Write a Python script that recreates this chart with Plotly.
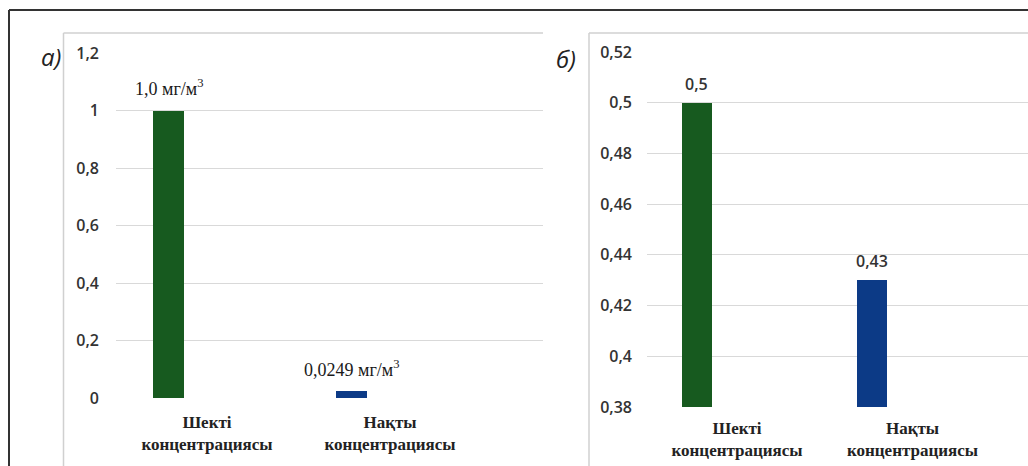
import plotly.graph_objects as go

W, H = 1028, 466

# --- data ---
categories = ["Шекті<br>концентрациясы", "Нақты<br>концентрациясы"]
values_a = [1.0, 0.0249]
labels_a = ["1,0 мг/м<sup>3</sup>", "0,0249 мг/м<sup>3</sup>"]
values_b = [0.5, 0.43]
labels_b = ["0,5", "0,43"]
ticks_a = [0, 0.2, 0.4, 0.6, 0.8, 1.0, 1.2]
ticktext_a = ["0", "0,2", "0,4", "0,6", "0,8", "1", "1,2"]
ticks_b = [0.38, 0.40, 0.42, 0.44, 0.46, 0.48, 0.50, 0.52]
ticktext_b = ["0,38", "0,4", "0,42", "0,44", "0,46", "0,48", "0,5", "0,52"]
axis_min_b = 0.38
bar_colors = ["#175a1f", "#0c3a86"]


def px(x):
    return x / W


def py(y):
    return 1 - y / H


BAR_W = 0.172
OFF_A = -0.296
OFF_B = -0.316

fig = go.Figure()
fig.add_trace(go.Bar(
    x=categories, y=values_a, marker=dict(color=bar_colors, line=dict(width=0)),
    width=BAR_W, offset=OFF_A, xaxis="x", yaxis="y", hoverinfo="skip",
))
# bars in chart б start at the axis minimum
fig.add_trace(go.Bar(
    x=categories, y=[v - axis_min_b for v in values_b], base=axis_min_b,
    marker=dict(color=bar_colors, line=dict(width=0)),
    width=BAR_W, offset=OFF_B, xaxis="x2", yaxis="y2", hoverinfo="skip",
))

tick_font = dict(family="Open Sans", size=16, color="#333333", weight=600)
cat_font = dict(family="Liberation Serif", size=17, color="#222222", weight=700)

common_x = dict(type="category", showgrid=False, zeroline=False, showline=False,
                ticks="", tickfont=cat_font, fixedrange=True, automargin=False)
common_y = dict(showgrid=True, gridcolor="#d9d9d9", gridwidth=1, zeroline=False,
                showline=False, ticks="", tickfont=tick_font, fixedrange=True,
                automargin=False)

fig.update_layout(
    width=W, height=H,
    margin=dict(l=0, r=0, t=0, b=0),
    paper_bgcolor="white", plot_bgcolor="white",
    showlegend=False,
    bargap=0,
    xaxis=dict(common_x, domain=[px(116), px(543)], range=[-0.497, 1.836],
               anchor="y", ticklabelstandoff=12),
    yaxis=dict(common_y, domain=[py(398), py(53)], range=[0, 1.2],
               tickvals=ticks_a, ticktext=ticktext_a, anchor="x",
               ticklabelstandoff=16),
    xaxis2=dict(common_x, domain=[px(647), 1.0], range=[-0.513, 1.658],
                anchor="y2", ticklabelstandoff=9),
    yaxis2=dict(common_y, domain=[py(407), py(52)], range=[0.38, 0.52],
                tickvals=ticks_b, ticktext=ticktext_b, anchor="x2",
                ticklabelstandoff=14),
)

# value labels above the bars
for i, (v, t) in enumerate(zip(values_a, labels_a)):
    fig.add_annotation(x=i + OFF_A + BAR_W / 2, y=v, xref="x", yref="y", text=t,
                       showarrow=False, yanchor="bottom", yshift=9,
                       font=dict(family="Liberation Serif", size=18, color="#1a1a1a"))
for i, (v, t) in enumerate(zip(values_b, labels_b)):
    fig.add_annotation(x=i + OFF_B + BAR_W / 2, y=v, xref="x2", yref="y2", text=t,
                       showarrow=False, yanchor="bottom", yshift=6,
                       font=dict(family="Open Sans", size=16, color="#333333", weight=600))

# panel letters
fig.add_annotation(x=px(39), y=py(38), xref="paper", yref="paper", text="а)",
                   showarrow=False, font=dict(family="Open Sans", size=24, color="#222222",
                                              style="italic"))
fig.add_annotation(x=px(566), y=py(40), xref="paper", yref="paper", text="б)",
                   showarrow=False, font=dict(family="Open Sans", size=24, color="#222222",
                                              style="italic"))

# outer frame and panel borders
frame = dict(color="#333333", width=2)
panel = dict(color="#d0d0d0", width=1.5)
fig.add_shape(type="line", xref="paper", yref="paper", x0=px(9), x1=px(9), y0=py(10), y1=0, line=frame)
fig.add_shape(type="line", xref="paper", yref="paper", x0=px(9), x1=1, y0=py(10), y1=py(10), line=frame)
fig.add_shape(type="line", xref="paper", yref="paper", x0=px(63.5), x1=px(63.5), y0=py(33), y1=0, line=panel)
fig.add_shape(type="line", xref="paper", yref="paper", x0=px(63.5), x1=px(543), y0=py(33), y1=py(33), line=panel)
fig.add_shape(type="line", xref="paper", yref="paper", x0=px(589), x1=px(589), y0=py(33), y1=0, line=panel)
fig.add_shape(type="line", xref="paper", yref="paper", x0=px(589), x1=1, y0=py(33), y1=py(33), line=panel)

fig.write_html("out.html")
